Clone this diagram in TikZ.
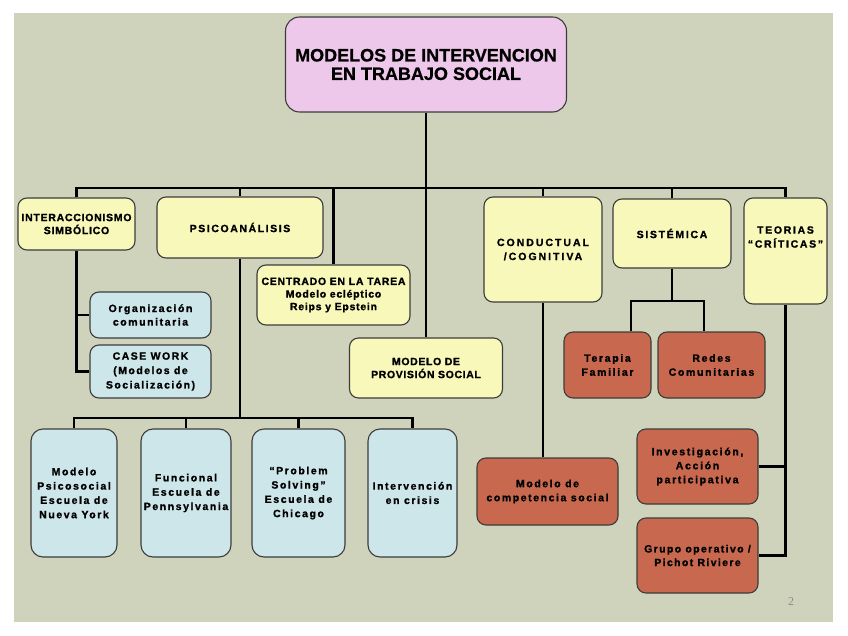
\documentclass[tikz,border=0pt]{standalone}
\usepackage{fontspec}
\setmainfont{Liberation Sans}[BoldFeatures={FakeBold=1.2}]
\newfontfamily\titfont{Liberation Sans}[BoldFeatures={FakeBold=0.8}]
\newfontfamily\pgnumfont{Liberation Serif}
\definecolor{bgc}{HTML}{CFD3BB}
\definecolor{yelc}{HTML}{F8F8BA}
\definecolor{bluc}{HTML}{CDE6EA}
\definecolor{redc}{HTML}{C8694F}
\definecolor{pinkc}{HTML}{EEC8EA}
\definecolor{bordc}{HTML}{3C3C3C}
\tikzset{
  tf/.style n args={3}{font=\bfseries\addfontfeatures{LetterSpace=#3}\fontsize{#1}{#2}\selectfont},
  box/.style={draw=bordc, line width=1.1pt, rounded corners=9pt, inner sep=0pt, align=center,
    tf={10.5}{13.6}{15}},
  yel/.style={box, fill=yelc},
  blu/.style={box, fill=bluc},
  rbox/.style={box, fill=redc},
  sz/.style 2 args={minimum width=#1pt, minimum height=#2pt},
  wire/.style={line width=2.6pt, black, line join=miter},
}
\begin{document}
\begin{tikzpicture}[x=1pt,y=-1pt]
\useasboundingbox (0,0) rectangle (848,636);
\fill[white] (0,0) rectangle (848,636);
\fill[bgc] (14,13) rectangle (833,622);

% title
\node[box, fill=pinkc, rounded corners=14pt, sz={281}{95}, font=\titfont\bfseries\fontsize{18}{18.5}\selectfont]
  (title) at (426,64.5) {MODELOS DE INTERVENCION\\ EN TRABAJO SOCIAL};

% second level
\node[yel, tf={10.5}{13}{7}, sz={117}{52}] (inter) at (76.5,224) {INTERACCIONISMO\\SIMBÓLICO};
\node[yel, sz={166}{61}] (psico) at (240,227.5) {PSICOANÁLISIS};
\node[yel, tf={10.5}{12.6}{7}, sz={153}{60}] (centrado) at (333.5,295) {CENTRADO EN LA TAREA\\Modelo ecléptico\\Reips y Epstein};
\node[yel, tf={10.5}{13}{6}, sz={153}{60}] (provision) at (426,368) {MODELO DE\\PROVISIÓN SOCIAL};
\node[yel, tf={10.5}{14}{19}, sz={118}{105}] (conductual) at (543,249.5) {CONDUCTUAL\\/COGNITIVA};
\node[yel, tf={10.5}{13.6}{16}, sz={118}{69}] (sistemica) at (672,233.5) {SISTÉMICA};
\node[yel, sz={83}{106}] (teorias) at (785.5,251) {};
\node[tf={10.5}{14}{16}, align=center, inner sep=0pt] (teoriasT) at (785.5,237) {TEORIAS\\“CRÍTICAS”};

% interaccionismo children
\node[blu, sz={121}{46}] (org) at (150.5,315) {Organización\\comunitaria};
\node[blu, tf={10.5}{14.4}{14}, sz={121}{53}] (casework) at (150.5,371.5) {CASE WORK\\(Modelos de\\Socialización)};

% psicoanalisis children
\tikzset{tall/.style={blu, rounded corners=12pt, tf={10.5}{14.3}{15}}}
\node[tall, sz={86}{128}] (psicosocial) at (74,493) {Modelo\\Psicosocial\\Escuela de\\Nueva York};
\node[tall, sz={90}{128}] (funcional) at (186,493) {Funcional\\Escuela de\\Pennsylvania};
\node[tall, sz={93}{128}] (problem) at (298.5,493) {“Problem\\Solving”\\Escuela de\\Chicago};
\node[tall, sz={89}{128}] (intervencion) at (412.5,493) {Intervención\\en crisis};

% conductual child
\node[rbox, tf={10.5}{14}{15}, sz={141}{67}] (competencia) at (547.5,491.5) {Modelo de\\competencia social};

% sistemica children
\node[rbox, tf={10.5}{14}{16}, sz={87}{66}] (terapia) at (607.5,365) {Terapia\\Familiar};
\node[rbox, tf={10.5}{14}{16}, sz={107}{66}] (redes) at (711.5,365) {Redes\\Comunitarias};

% teorias children
\node[rbox, tf={10.5}{14}{16}, sz={121}{75}] (investigacion) at (697.5,466.5) {Investigación,\\Acción\\participativa};
\node[rbox, tf={10.5}{13.6}{13}, sz={121}{75}] (grupo) at (697.5,555.5) {Grupo operativo /\\Pichot Riviere};

% page number
\node[font=\pgnumfont\fontsize{12}{12}\selectfont, text=black!45, inner sep=0pt] (pgnum) at (791,602) {2};

% connectors
\coordinate (bus) at (426,188);
\draw[wire] (title.south) -- (provision.north);
\draw[wire] (inter.north) |- (teorias.north |- bus) -- (teorias.north);
\foreach \n in {psico, centrado, conductual, sistemica}
  \draw[wire] (\n.north) -- (\n.north |- bus);

\draw[wire] (inter.south) |- (casework.west);
\draw[wire] (inter.south |- org.west) -- (org.west);

\coordinate (pbus) at (240,418);
\draw[wire] (psico.south) -- (psico.south |- pbus);
\draw[wire] (psicosocial.north) |- (intervencion.north |- pbus) -- (intervencion.north);
\draw[wire] (funcional.north) -- (funcional.north |- pbus);
\draw[wire] (problem.north) -- (problem.north |- pbus);

\draw[wire] (conductual.south) -- (conductual.south |- competencia.north);

\coordinate (sbus) at (670,301);
\draw[wire] (sistemica.south) -- (sistemica.south |- sbus);
\draw[wire] ([xshift=23.5pt]terapia.north) |- ([xshift=-7.5pt]redes.north |- sbus) -- ([xshift=-7.5pt]redes.north);

\draw[wire] (teorias.south) |- (grupo.east);
\draw[wire] (teorias.south |- investigacion.east) -- (investigacion.east);
\end{tikzpicture}
\end{document}
